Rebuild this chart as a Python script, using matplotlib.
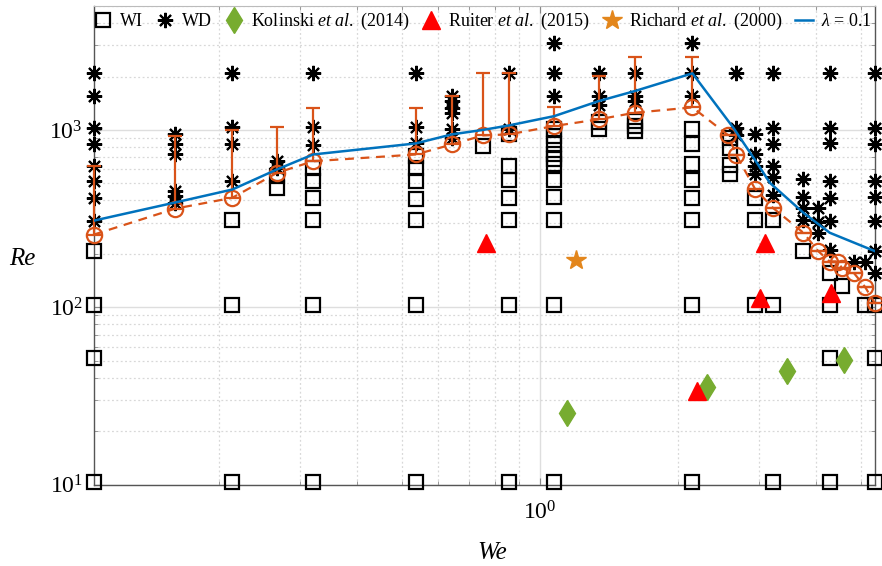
import numpy as np
import matplotlib
matplotlib.use("Agg")
import matplotlib.pyplot as plt
from matplotlib.ticker import LogLocator, NullFormatter

plt.rcParams['font.family'] = ['Liberation Serif', 'DejaVu Serif']
plt.rcParams['mathtext.fontset'] = 'custom'
plt.rcParams['mathtext.rm'] = 'Liberation Serif'
plt.rcParams['mathtext.it'] = 'Liberation Serif:italic'
plt.rcParams['mathtext.bf'] = 'Liberation Serif:bold'

# ---------------- data ----------------
# WI points: We, Re
wi_we = ([0.107]*4 + [0.214]*3 + [0.268]*2 + [0.321]*6 + [0.537]*7 + [0.752] +
         [0.857]*7 + [1.075]*11 + [1.345]*2 + [1.61]*3 + [2.15]*8 +
         [2.60]*4 + [2.94]*3 + [3.22]*3 + [3.75] + [4.28]*4 + [4.54] + [5.11] + [5.37]*3)
wi_re = ([207, 103, 52, 10.3] + [310, 103, 10.3] + [548, 471] +
         [611, 514, 414, 310, 103, 10.3] + [711, 611, 514, 410, 310, 103, 10.3] + [810] +
         [944, 624, 524, 414, 310, 103, 10.3] +
         [1007, 927, 828, 727, 682, 642, 524, 420, 310, 103, 10.3] + [1103, 1007] +
         [1125, 1055, 990] + [1007, 828, 642, 524, 414, 310, 103, 10.3] +
         [903, 793, 638, 561] + [414, 310, 103] + [310, 103, 10.3] + [207] +
         [156, 103, 52, 10.3] + [131] + [103] + [103, 52, 10.3])

# WD points: We, Re
wd_we = ([0.107]*8 + [0.161]*6 + [0.214]*4 + [0.268]*2 + [0.321]*3 + [0.537]*3 +
         [0.644]*6 + [0.857]*2 + [1.075]*3 + [1.345]*3 + [1.61]*3 + [2.15]*3 +
         [2.68]*3 + [2.94]*4 + [3.22]*6 + [3.75]*4 + [4.04]*3 + [4.28]*7 +
         [4.83] + [5.11] + [5.37]*8)
wd_re = ([2104, 1552, 1028, 828, 624, 514, 414, 308] + [944, 828, 728, 451, 423, 388] +
         [2104, 1040, 828, 514] + [666, 611] + [2104, 1040, 818] + [2085, 1035, 846] +
         [1560, 1455, 1334, 1250, 1007, 904] + [2085, 1007] + [3110, 2085, 1552] +
         [2085, 1560, 1380] + [2085, 1560, 1455] + [3090, 2085, 1560] +
         [2104, 1028, 939] + [944, 727, 624, 561] + [2104, 1028, 828, 624, 546, 432] +
         [528, 420, 363, 310] + [363, 301, 263] + [2104, 1028, 847, 514, 414, 307, 211] +
         [181] + [181] + [2104, 1028, 828, 514, 420, 307, 207, 156])

# mean (orange) with upper error bar
mean_we = [0.107, 0.161, 0.214, 0.268, 0.321, 0.537, 0.644, 0.752, 0.857, 1.075,
           1.345, 1.61, 2.15, 2.57, 2.68, 2.94, 3.22, 3.75, 4.04, 4.28, 4.47,
           4.54, 4.83, 5.11, 5.37]
mean_re = [257, 360, 414, 573, 666, 727, 828, 931, 944, 1052,
           1148, 1250, 1340, 935, 720, 467, 363, 263, 207, 181, 181,
           167, 156, 130, 105]
mean_top = [624, 930, 1000, 1040, 1337, 1337, 1552, 2085, 2085, 1342,
            2025, 2593, 2593, 935, 720, 467, 363, 263, 207, 181, 181,
            167, 156, 130, 105]

# lambda = 0.1 model line
lam_we = [0.107, 0.161, 0.214, 0.268, 0.321, 0.537, 0.644, 0.752, 0.857, 1.075,
          1.345, 1.61, 2.15, 2.64, 2.97, 3.17, 3.75, 4.28, 5.37]
lam_re = [308, 390, 461, 599, 727, 839, 944, 1000, 1060, 1196,
          1455, 1656, 2085, 1028, 653, 503, 341, 263, 207]

kol_we = [1.147, 2.31, 3.46, 4.59]
kol_re = [25.3, 35.7, 43.8, 50.1]
rui_we = [0.762, 2.20, 3.01, 3.09, 4.30]
rui_re = [230, 33.5, 113, 230, 120]
ric_we = [1.198]
ric_re = [185]

# ---------------- plot ----------------
fig = plt.figure(figsize=(8.82, 5.66), dpi=100)
ax = fig.add_axes([94/882, 1-484.5/566, 781/882, 478.5/566])
ax.set_xscale('log')
ax.set_yscale('log')

orange = '#D95319'
blue = '#0072BD'

h_wi, = ax.plot(wi_we, wi_re, 's', ms=9.5, mfc='none', mec='k', mew=1.6, ls='none',
                label='WI', zorder=3, clip_on=False)
h_wd, = ax.plot(wd_we, wd_re, marker=(8, 2, 0), ms=11, mec='k', mew=1.5, ls='none',
                label='WD', zorder=3, clip_on=False)

yerr = [np.zeros(len(mean_re)), np.array(mean_top) - np.array(mean_re)]
eb = ax.errorbar(mean_we, mean_re, yerr=yerr, fmt='none', ecolor=orange, elinewidth=1.6,
                 capsize=5, capthick=1.6, zorder=4)
for art in eb.lines[1] + eb.lines[2]:
    art.set_clip_on(False)
ax.plot(mean_we, mean_re, 'o', color=orange, ms=11, mfc='none', mec=orange, mew=1.6,
        ls=(0, (4, 3)), lw=1.6, zorder=4, label='_nolegend_', clip_on=False)

h_kol, = ax.plot(kol_we, kol_re, 'd', ms=13, color='#77AC30', ls='none',
                 label=r'Kolinski $\it{et\ al.}$ (2014)', zorder=5, clip_on=False)
h_rui, = ax.plot(rui_we, rui_re, '^', ms=13, color='#FF0000', ls='none',
                 label=r'Ruiter $\it{et\ al.}$ (2015)', zorder=5, clip_on=False)
h_ric, = ax.plot(ric_we, ric_re, '*', ms=15, color='#E3861C', ls='none',
                 label=r'Richard $\it{et\ al.}$ (2000)', zorder=5, clip_on=False)
h_lam, = ax.plot(lam_we, lam_re, '-', color=blue, lw=1.8, label=r'$\lambda$ = 0.1', zorder=4)

ax.set_xlim(0.107, 5.37)
ax.set_ylim(10, 5000)

ax.xaxis.set_major_locator(LogLocator(base=10, numticks=10))
ax.xaxis.set_minor_locator(LogLocator(base=10, subs=np.arange(2, 10), numticks=20))
ax.xaxis.set_minor_formatter(NullFormatter())
ax.yaxis.set_minor_formatter(NullFormatter())

ax.grid(True, which='major', color='#dedede', lw=1.0, ls='-')
ax.grid(True, which='minor', color='#d8d8d8', lw=0.9, ls=(0, (1.5, 2)))
ax.set_axisbelow(True)

ax.tick_params(which='both', direction='in', top=True, right=True, color='#888888',
               labelsize=17)
ax.tick_params(axis='x', pad=12)
ax.tick_params(axis='y', pad=8)
ax.tick_params(which='major', length=5)
ax.tick_params(which='minor', length=3)
for s in ['left', 'bottom', 'right']:
    ax.spines[s].set_color('#555555')
    ax.spines[s].set_linewidth(1.0)
ax.spines['top'].set_color('#bbbbbb')

ax.set_xlabel('We', fontsize=18, style='italic', va='center', ha='center')
ax.set_ylabel('Re', fontsize=18, style='italic', rotation=0, va='center', ha='center')
ax.xaxis.set_label_coords(0.510, -0.143)
ax.yaxis.set_label_coords(-0.092, 0.471)

leg = ax.legend(handles=[h_wi, h_wd, h_kol, h_rui, h_ric, h_lam], loc='center left',
                bbox_to_anchor=(0.0, 0.967), ncol=6, frameon=False, fontsize=13,
                handlelength=1.0, handletextpad=0.45, columnspacing=0.7, borderpad=0,
                borderaxespad=0)

fig.savefig('out.png', dpi=100)
